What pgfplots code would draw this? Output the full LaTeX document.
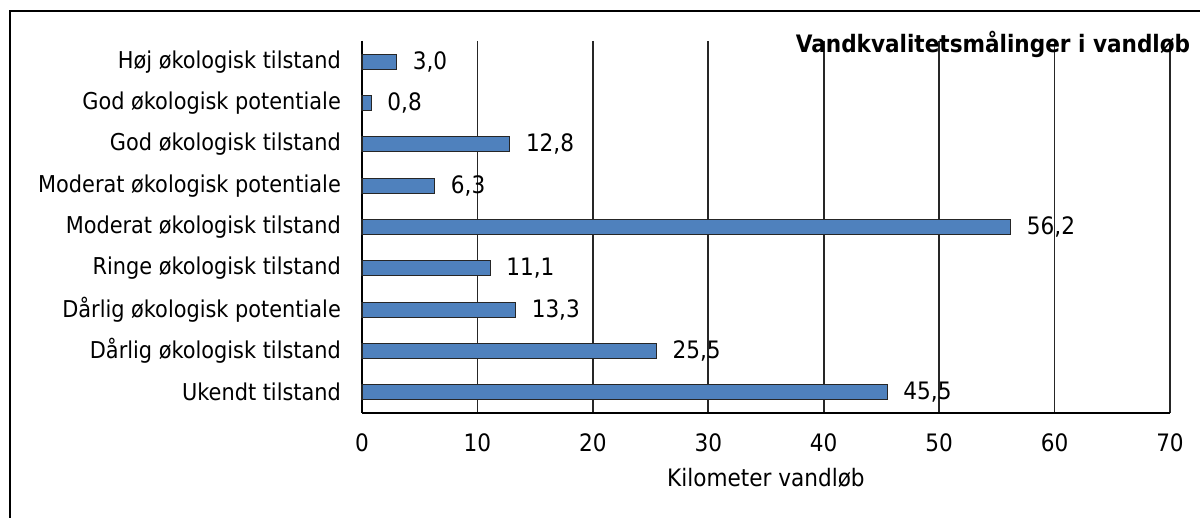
\documentclass[border=0pt]{standalone}
\usepackage{pgfplots}
\pgfplotsset{compat=1.18}
\usepackage{fontspec}
\setmainfont{DejaVu Sans Condensed}
\definecolor{barblue}{HTML}{4F81BD}
\begin{document}
\begin{tikzpicture}[x=1pt,y=1pt]
\useasboundingbox (-181,-52.5) rectangle (419,206.5);
\draw[black, line width=0.8pt] (-176,-60) -- (-176,201) -- (430,201);
\begin{axis}[
  at={(0,0)}, anchor=south west,
  scale only axis, width=404pt, height=186pt,
  xbar, bar width=7.5pt,
  xmin=0, xmax=70, xtick={0,10,...,70},
  ymin=-0.5, ymax=8.5, y dir=reverse,
  ytick={0,...,8},
  yticklabels={Høj økologisk tilstand, God økologisk potentiale, God økologisk tilstand, Moderat økologisk potentiale, Moderat økologisk tilstand, Ringe økologisk tilstand, Dårlig økologisk potentiale, Dårlig økologisk tilstand, Ukendt tilstand},
  axis x line*=bottom, axis y line*=left,
  axis line style={black, line width=0.8pt, -},
  xmajorgrids, major grid style={black!85, line width=0.8pt},
  major tick length=0pt,
  tick label style={font=\fontsize{12}{14}\selectfont},
  xticklabel style={yshift=-7pt},
  yticklabel style={xshift=-7pt, font=\fontsize{11.6}{14}\selectfont},
  /pgf/number format/assume math mode=true,
  xlabel={Kilometer vandløb},
  xlabel style={font=\fontsize{12}{14}\selectfont, yshift=-1pt},
  nodes near coords,
  nodes near coords style={anchor=west, xshift=4.5pt, font=\fontsize{12}{14}\selectfont,
    /pgf/number format/.cd, use comma, fixed, fixed zerofill, precision=1, assume math mode=true},
  clip=false,
]
\addplot[fill=barblue, draw=black!85, line width=0.6pt] coordinates {
(3.0,0) (0.8,1) (12.8,2) (6.3,3) (56.2,4) (11.1,5) (13.3,6) (25.5,7) (45.5,8)};
\node[font=\bfseries\fontsize{12}{14}\selectfont] at (rel axis cs:0.781,0.99) {Vandkvalitetsmålinger i vandløb};
\end{axis}
\end{tikzpicture}
\end{document}
